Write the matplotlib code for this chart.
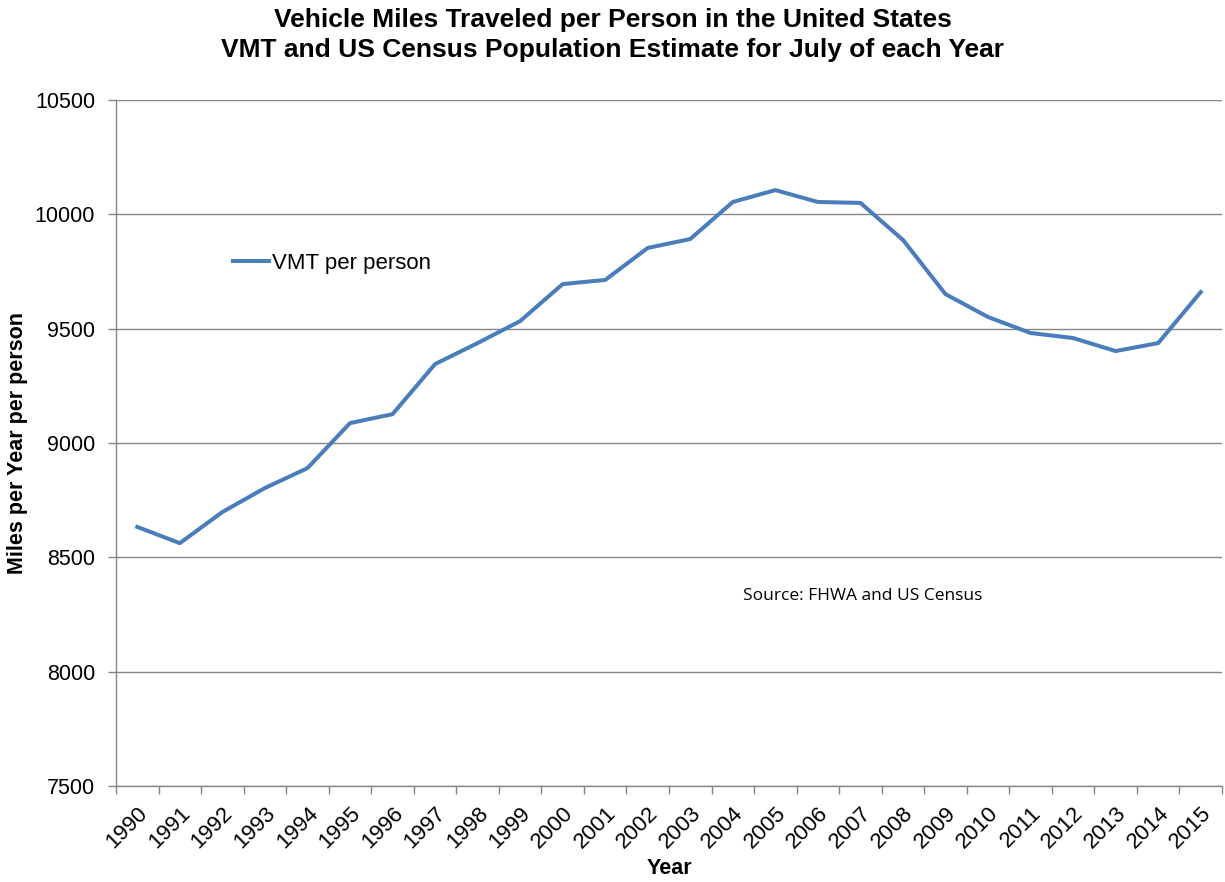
import matplotlib
matplotlib.use("Agg")
import matplotlib.pyplot as plt
import numpy as np

years = [str(y) for y in range(1990, 2016)]
vmt_per_person = [8633, 8562, 8698, 8803, 8890, 9087, 9126, 9345, 9437, 9533,
                  9695, 9713, 9853, 9892, 10054, 10106, 10054, 10050, 9888, 9651,
                  9551, 9481, 9459, 9402, 9437, 9660]
yticks = [7500, 8000, 8500, 9000, 9500, 10000, 10500]

plt.rcParams['font.family'] = ['Liberation Sans', 'DejaVu Sans']

fig = plt.figure(figsize=(12.25, 8.82), dpi=100)
ax = fig.add_axes([116/1225, 1-786/882, (1222-116)/1225, (786-100)/882])

x = np.arange(len(years))
line, = ax.plot(x, vmt_per_person, color='#4A7EBB', lw=2.9, label='VMT per person',
                solid_joinstyle='round', zorder=3)

ax.set_xlim(-0.5, len(years) - 0.5)
ax.set_ylim(7500, 10500)
ax.set_yticks(yticks)
ax.set_yticklabels([str(v) for v in yticks], fontsize=15.5)
ax.yaxis.grid(True, color='#868686', lw=1.0)
ax.set_axisbelow(True)

ax.set_xticks(x)
ax.set_xticklabels(years, rotation=45, ha='right', rotation_mode='anchor', fontsize=16)
ax.tick_params(axis='x', which='major', length=0, pad=12)
ax.set_xticks(np.arange(-0.5, len(years) + 0.5, 1), minor=True)
ax.tick_params(axis='x', which='minor', length=6, color='#868686', width=1)
ax.tick_params(axis='y', length=6, color='#868686', width=1, pad=9)

for s in ['top', 'right']:
    ax.spines[s].set_visible(False)
for s in ['left', 'bottom']:
    ax.spines[s].set_color('#868686')
    ax.spines[s].set_linewidth(1.0)

fig.text(0.5, 1-20/882, 'Vehicle Miles Traveled per Person in the United States',
         ha='center', va='center', fontsize=19, fontweight='bold')
fig.text(0.5, 1-50/882, 'VMT and US Census Population Estimate for July of each Year',
         ha='center', va='center', fontsize=19, fontweight='bold')

ax.set_ylabel('Miles per Year per person', fontsize=15.5, fontweight='bold')
ax.yaxis.set_label_coords(-(116-18)/1106, 0.5)
ax.yaxis.label.set_va('center')
ax.set_xlabel('Year', fontsize=15.5, fontweight='bold')
ax.xaxis.set_label_coords(0.5, -(869-786)/686)
ax.xaxis.label.set_va('center')

leg = ax.legend(handles=[line], loc='center left', bbox_to_anchor=((233-116)/1106, 1-(263-100)/686),
                frameon=False, fontsize=16, handlelength=1.6, handletextpad=0.15,
                borderaxespad=0, borderpad=0)

fig.text(743/1225, 1-596/882, 'Source: FHWA and US Census', ha='left', va='center',
         fontsize=12.5, family=['Open Sans', 'DejaVu Sans'])

fig.savefig('out.png', dpi=100)
